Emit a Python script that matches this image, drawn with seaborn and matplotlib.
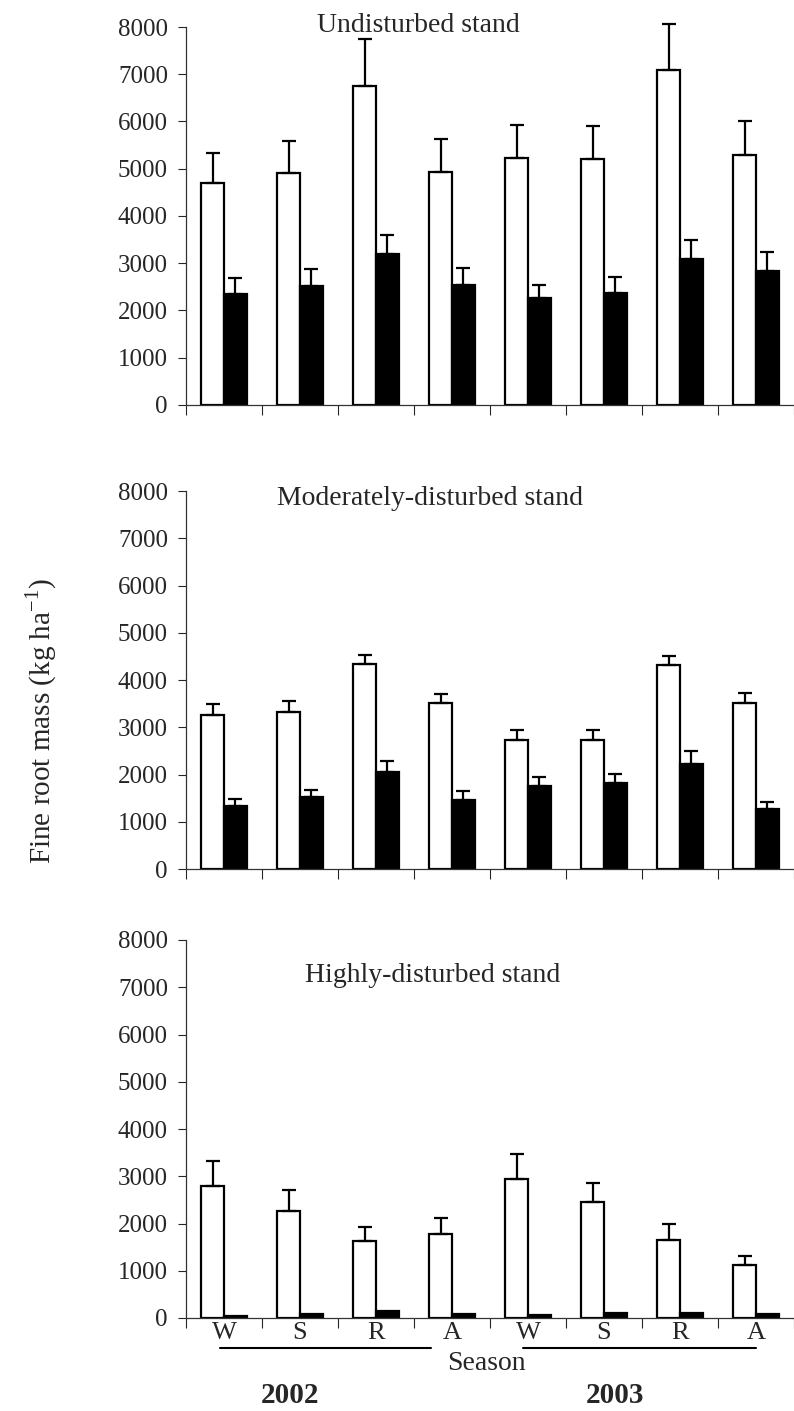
import numpy as np
import pandas as pd
import matplotlib
matplotlib.use("Agg")
import matplotlib.pyplot as plt
from matplotlib.lines import Line2D
from matplotlib.ticker import MultipleLocator, FixedLocator
import seaborn as sns

# ---------------- data ----------------
seasons = ["W", "S", "R", "A", "W", "S", "R", "A"]
years = ["2002", "2003"]
panel_titles = ["Undisturbed stand", "Moderately-disturbed stand", "Highly-disturbed stand"]
series_names = ["white", "black"]

undist_white = [4690, 4920, 6760, 4930, 5235, 5200, 7085, 5285]
undist_white_err = [640, 660, 980, 710, 700, 700, 980, 730]
undist_black = [2355, 2515, 3190, 2530, 2255, 2375, 3080, 2830]
undist_black_err = [340, 370, 400, 370, 275, 330, 410, 410]

moder_white = [3250, 3320, 4330, 3520, 2735, 2735, 4310, 3520]
moder_white_err = [235, 240, 195, 190, 200, 200, 195, 210]
moder_black = [1335, 1515, 2050, 1465, 1760, 1820, 2225, 1270]
moder_black_err = [150, 150, 230, 180, 180, 190, 280, 150]

high_white = [2790, 2270, 1635, 1780, 2950, 2445, 1660, 1125]
high_white_err = [530, 435, 290, 330, 520, 420, 340, 190]
high_black = [50, 80, 140, 80, 60, 100, 100, 80]
high_black_err = [0, 0, 0, 0, 0, 0, 0, 0]

panels = [
    (undist_white, undist_white_err, undist_black, undist_black_err),
    (moder_white, moder_white_err, moder_black, moder_black_err),
    (high_white, high_white_err, high_black, high_black_err),
]

# ---------------- style ----------------
sns.set_style("ticks")
plt.rcParams["font.family"] = ["Liberation Serif", "DejaVu Serif"]
plt.rcParams["mathtext.fontset"] = "custom"
plt.rcParams["mathtext.rm"] = "Liberation Serif"

W, H = 794, 1411
fig = plt.figure(figsize=(W / 100, H / 100), dpi=100)

left_px, right_px = 186, 794
# (zero pixel row, 8000 pixel row)
panel_rows = [(405, 27), (869, 491), (1318, 940)]
title_pos = [(418, 25), (430, 498), (433, 975)]

group_idx = list(range(len(seasons)))

for p, ((wv, we, bv, be), (y0, y8), title, tpos) in enumerate(
        zip(panels, panel_rows, panel_titles, title_pos)):
    ax = fig.add_axes([left_px / W, 1 - y0 / H, (right_px - left_px) / W, (y0 - y8) / H])
    df = pd.DataFrame({
        "group": group_idx * 2,
        "series": [series_names[0]] * 8 + [series_names[1]] * 8,
        "value": list(wv) + list(bv),
    })
    sns.barplot(data=df, x="group", y="value", hue="series",
                hue_order=series_names, palette=["white", "black"],
                width=0.6, gap=0, errorbar=None, edgecolor="black",
                linewidth=1.6, legend=False, ax=ax)
    # error bars (upper only) at bar centres
    errs = list(we) + list(be)
    vals = list(wv) + list(bv)
    xs = [b.get_x() + b.get_width() / 2 for b in ax.patches]
    for x, v, e in zip(xs, vals, errs):
        if e > 0:
            eb = ax.errorbar([x], [v], yerr=[[0], [e]], fmt="none", ecolor="black",
                             elinewidth=1.6, capsize=5, capthick=1.6)
            for art in eb.lines[1] + eb.lines[2]:
                art.set_clip_on(False)
    ax.set_xlim(-0.5, 7.5)
    ax.set_ylim(0, 8000)
    ax.yaxis.set_major_locator(MultipleLocator(1000))
    ax.tick_params(axis="y", direction="out", length=6, width=0.8, labelsize=18, pad=7)
    ax.xaxis.set_major_locator(FixedLocator(group_idx))
    ax.xaxis.set_minor_locator(FixedLocator(np.arange(-0.5, 8.0, 1.0)))
    ax.tick_params(axis="x", which="major", length=0, labelsize=19, pad=3)
    ax.tick_params(axis="x", which="minor", direction="out", length=7, width=0.8)
    if p == 2:
        ax.set_xticklabels(seasons)
    else:
        ax.set_xticklabels([])
    ax.set_xlabel("")
    ax.set_ylabel("")
    sns.despine(ax=ax)
    for s in ["left", "bottom"]:
        ax.spines[s].set_linewidth(0.9)
        ax.spines[s].set_color("#333333")
    fig.text(tpos[0] / W, 1 - tpos[1] / H, title, ha="center", va="center", fontsize=20)

# y label
fig.text(41 / W, 1 - 721 / H, r"Fine root mass (kg ha$^{\mathregular{-1}}$)",
         rotation=90, ha="center", va="center", fontsize=21)

# year underlines and labels
for (x0, x1) in [(220, 431), (523, 756)]:
    fig.add_artist(Line2D([x0 / W, x1 / W], [1 - 1348 / H, 1 - 1348 / H],
                          transform=fig.transFigure, color="black", lw=1.5))
fig.text(486 / W, 1 - 1364 / H, "Season", ha="center", va="center", fontsize=20)
fig.text(290 / W, 1 - 1409 / H, years[0], ha="center", va="bottom", fontsize=21, fontweight="bold")
fig.text(615 / W, 1 - 1409 / H, years[1], ha="center", va="bottom", fontsize=21, fontweight="bold")

fig.savefig("out.png", dpi=100)
